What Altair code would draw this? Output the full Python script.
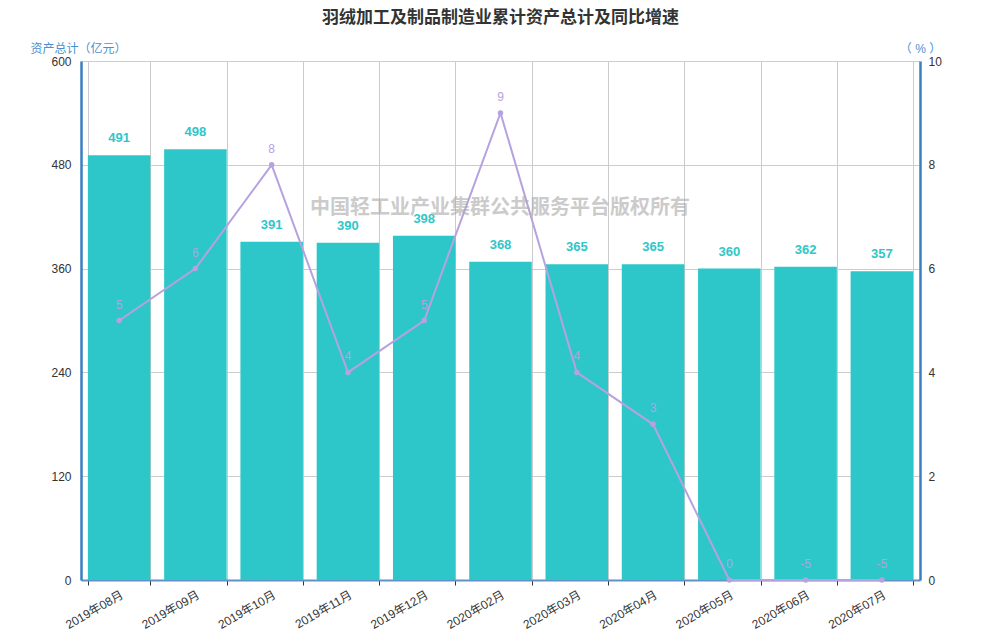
import altair as alt
import pandas as pd

months = ["2019年08月", "2019年09月", "2019年10月", "2019年11月", "2019年12月",
          "2020年02月", "2020年03月", "2020年04月", "2020年05月", "2020年06月", "2020年07月"]
assets = [491, 498, 391, 390, 398, 368, 365, 365, 360, 362, 357]
growth = [5, 6, 8, 4, 5, 9, 4, 3, 0, -5, -5]
title_text = "羽绒加工及制品制造业累计资产总计及同比增速"
watermark = "中国轻工业产业集群公共服务平台版权所有"

df = pd.DataFrame({"month": months, "assets": assets, "growth": growth,
                   "glabel": [str(g) for g in growth]})

FONT = "'Liberation Sans', 'Noto Sans CJK SC', sans-serif"
CJK = "'Noto Sans CJK SC', sans-serif"
BAR = "#2ec7c9"
LINE = "#b6a2de"
AXIS_BLUE = "#3b7fc0"
TITLE_BLUE = "#4a8fd0"

W, H = 839, 519

xenc = alt.X("month:N", sort=months, title=None,
             scale=alt.Scale(paddingInner=0.18, paddingOuter=0.09),
             axis=alt.Axis(labelAngle=330, labelAlign="right", labelBaseline="top",
                           labelFontSize=12, labelColor="#333", labelFont=FONT,
                           tickBand="extent", ticks=True, tickSize=5, tickColor="#333",
                           domainColor="#5f93c6", domainWidth=2,
                           grid=True, gridColor="#cccccc", labelPadding=4))

base = alt.Chart(df).encode(x=xenc)

left_scale = alt.Scale(domain=[0, 600], nice=False)
right_scale = alt.Scale(domain=[0, 10], nice=False, clamp=True)

bars = base.mark_bar(color=BAR).encode(
    y=alt.Y("assets:Q", title="资产总计（亿元）", scale=left_scale,
            axis=alt.Axis(values=[0, 120, 240, 360, 480, 600], ticks=False,
                          domainColor=AXIS_BLUE, domainWidth=2.5,
                          gridColor="#cccccc", labelColor="#333", labelFontSize=12,
                          labelFont=FONT, labelPadding=10,
                          titleAngle=0, titleX=-3, titleY=-13, titleAlign="center",
                          titleBaseline="middle",
                          titleColor=TITLE_BLUE, titleFontSize=12, titleFontWeight="normal",
                          titleFont=CJK))
)
bar_text = base.mark_text(color=BAR, fontWeight="bold", fontSize=13, dy=-10,
                          baseline="bottom", font=FONT).encode(
    y=alt.Y("assets:Q", scale=left_scale),
    text="assets:Q")

bar_layer = alt.layer(bars, bar_text)

yline = alt.Y("growth:Q", title="（ % ）", scale=right_scale,
              axis=alt.Axis(values=[0, 2, 4, 6, 8, 10], orient="right", ticks=False,
                            grid=False, domainColor=AXIS_BLUE, domainWidth=2.5,
                            labelColor="#333", labelFontSize=12, labelFont=FONT,
                            labelPadding=8,
                            titleAngle=0, titleX=0, titleY=-13, titleAlign="center",
                            titleBaseline="middle",
                            titleColor=TITLE_BLUE, titleFontSize=12, titleFontWeight="normal",
                            titleFont=FONT))

line = base.mark_line(color=LINE, strokeWidth=2).encode(y=yline)
pts = base.mark_circle(color=LINE, size=30, opacity=1).encode(
    y=alt.Y("growth:Q", scale=right_scale))
line_text = base.mark_text(color=LINE, fontSize=12, dy=-9, baseline="bottom",
                           font=FONT).encode(
    y=alt.Y("growth:Q", scale=right_scale),
    text="glabel:N")

line_layer = alt.layer(line, pts, line_text)

wm = alt.Chart(pd.DataFrame({"t": [watermark]})).mark_text(
    fontSize=20, fontWeight="bold", color="#aaaaaa", opacity=0.6, font=CJK
).encode(x=alt.value(419), y=alt.value(147), text="t:N")

chart = alt.layer(bar_layer, line_layer, wm).resolve_scale(y="independent").properties(
    width=W, height=H,
    autosize=alt.AutoSizeParams(type="none"),
    padding={"left": 73, "top": 53, "right": 70, "bottom": 55},
    title=alt.TitleParams(title_text, anchor="middle", fontSize=17, fontWeight="bold",
                          color="#333", font=CJK, offset=15),
).configure_view(stroke=None).configure_axis(labelFont=FONT)

chart.save("out.html", embed_options={"renderer": "svg", "actions": False})
